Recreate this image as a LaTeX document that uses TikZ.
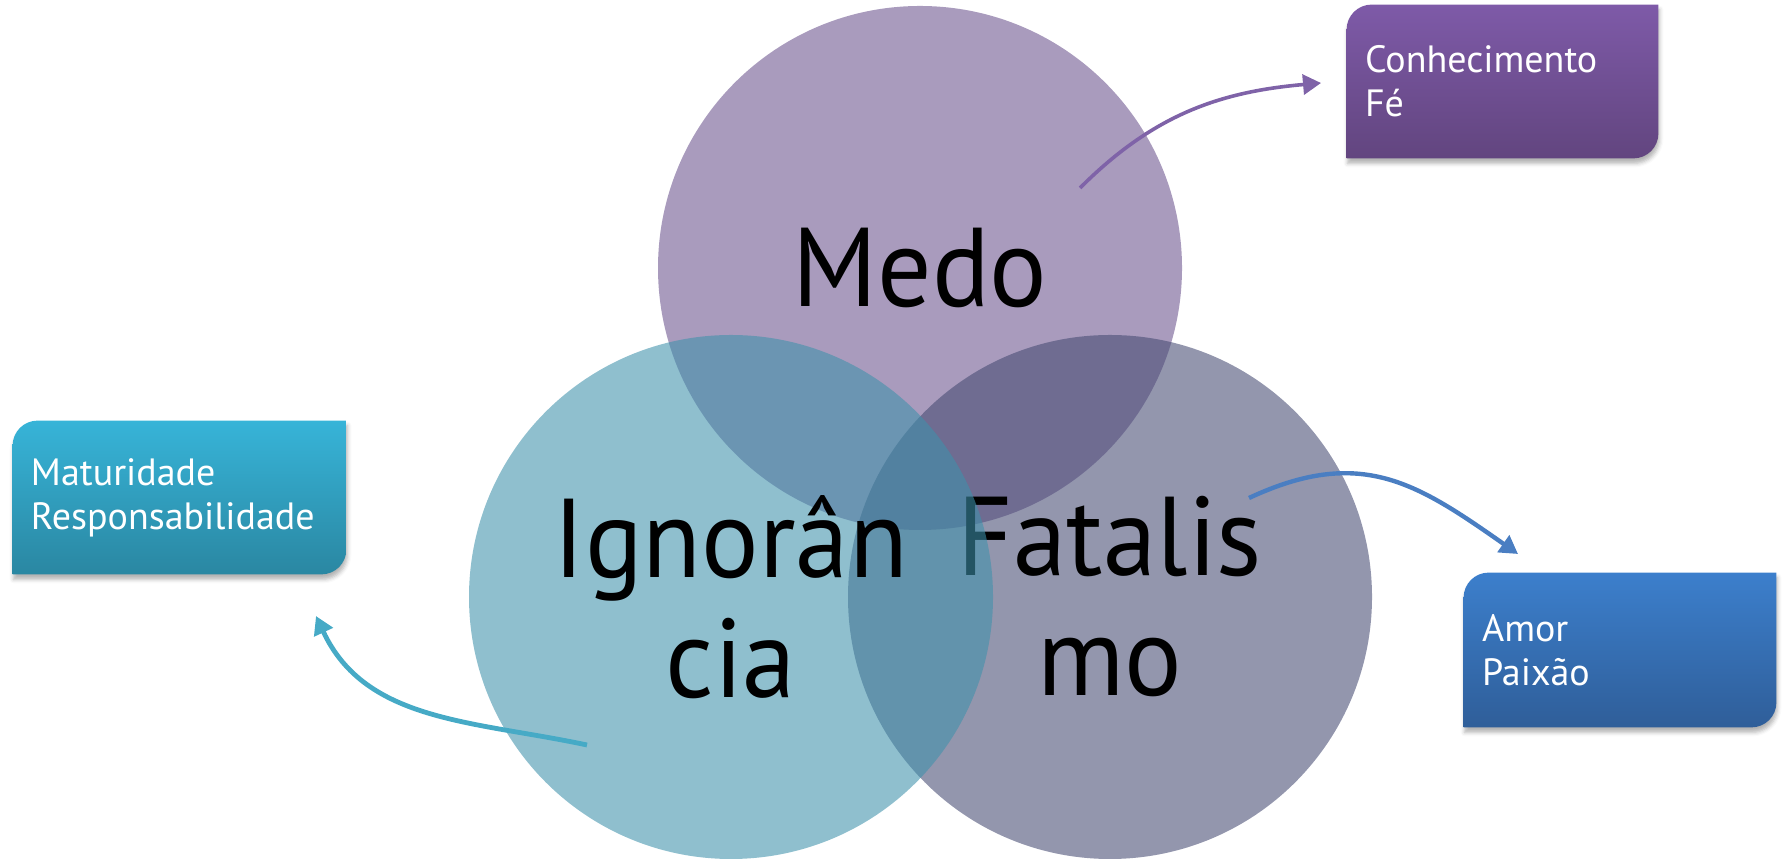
\documentclass[tikz,border=0pt]{standalone}
\usepackage{fontspec}
\setmainfont{PT Sans}
\newfontfamily\vennfont[FakeStretch=0.96]{PT Sans}
\usetikzlibrary{arrows.meta,shadows.blur}
\pgfdeclarelayer{background}
\pgfsetlayers{background,main}

\definecolor{medofill}{HTML}{6B538D}
\definecolor{fatafill}{HTML}{454A72}
\definecolor{ignofill}{HTML}{3E91AB}
\definecolor{conhtop}{HTML}{7E5AA8}
\definecolor{conhbot}{HTML}{62457F}
\definecolor{matutop}{HTML}{37B4D8}
\definecolor{matubot}{HTML}{2A87A2}
\definecolor{amortop}{HTML}{3C7FCC}
\definecolor{amorbot}{HTML}{2F5E99}
\definecolor{conharrow}{HTML}{7F63A8}
\definecolor{matuarrow}{HTML}{46AAC6}
\definecolor{amorarrow}{HTML}{4A7EC2}

\tikzset{
  venn/.style={circle, minimum size=262pt, inner sep=0pt, fill opacity=0.58,
    text opacity=1, align=center, font=\vennfont\fontsize{56}{60}\selectfont},
  tagbox/.style={rectangle, inner xsep=9pt, inner ysep=0pt, minimum height=76.5pt,
    align=left, text=white, font=\fontsize{19}{22}\selectfont},
  link/.style={-{Triangle[length=9pt,width=10pt]}}
}

\begin{document}
\begin{tikzpicture}[x=0.5pt,y=0.5pt]
\useasboundingbox (0,0) rectangle (1786,860);

% Draw the three circles (the last one lies on top)
\node[venn, fill=medofill] (medo) at (920,592) {Medo};
\node[venn, fill=fatafill] (fatalismo) at (1110,263) {Fatalis\\mo};
\node[venn, fill=ignofill] (ignorancia) at (731,263) {Ignorân\\cia};

% Draw the boxes
\node[tagbox, text width=137.5pt] (conh) at (1502.5,778.5) {Conhecimento\\Fé};
\node[tagbox, text width=148.5pt] (matu) at (179.5,362.5) {Maturidade\\Responsabilidade};
\node[tagbox, text width=138pt, minimum height=77pt] (amor) at (1620,210) {Amor\\Paixão};

\begin{pgfonlayer}{background}
\foreach \bx in {conh,matu,amor} {
  \shade[top color=\bx top, bottom color=\bx bot,
    blur shadow={shadow xshift=0.5pt, shadow yshift=-2.5pt, shadow opacity=30}]
    (\bx.south west) -- ([yshift=-12.5pt]\bx.north west)
    arc[start angle=180, end angle=90, radius=12.5pt] -- (\bx.north east)
    -- ([yshift=12.5pt]\bx.south east)
    arc[start angle=0, end angle=-90, radius=12.5pt] -- cycle;
}
\end{pgfonlayer}

% Draw the arrows
\coordinate (medo-out) at (1080,672);
\coordinate (conh-in) at (1321,777);
\draw[link, conharrow, line width=1.8pt] (medo-out) to[out=45, in=185] (conh-in);

\coordinate (fata-out) at (1249,362);
\coordinate (amor-in) at (1518,306);
\draw[link, amorarrow, line width=2.2pt] (fata-out) to[out=25, in=145, looseness=1.15] (amor-in);

\coordinate (igno-out) at (587,115);
\coordinate (matu-in) at (316,244);
\draw[link, matuarrow, line width=2.4pt] (igno-out) to[out=168, in=-65] (matu-in);

\end{tikzpicture}
\end{document}
